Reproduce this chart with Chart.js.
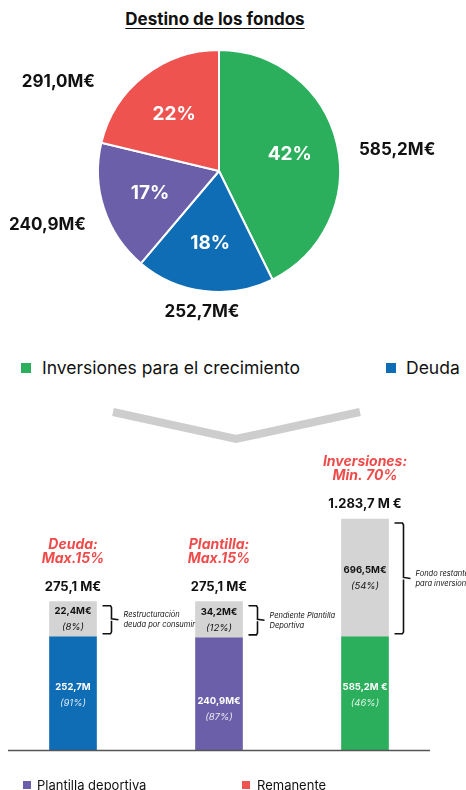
<!DOCTYPE html>
<html>
<head>
<meta charset="utf-8">
<script src="https://cdn.jsdelivr.net/npm/chart.js@4.4.1/dist/chart.umd.min.js"></script>
<style>
  body { margin: 0; background: #fff; font-family: Inter, "Noto Sans", sans-serif; color: #111; }
  #lienzo { position: relative; width: 466px; height: 790px; overflow: hidden; }
  .abs { position: absolute; }
  #titulo { top: 9px; left: 0; width: 430px; text-align: center; font-size: 17px; font-weight: 700; line-height: 20px; text-decoration: underline; text-underline-offset: 3px; }
  .leyenda { position: absolute; white-space: nowrap; display: flex; align-items: center; }
  .leyenda span { display: inline-block; }
  .grande { font-size: 17.5px; line-height: 22px; }
  .chica { font-size: 13px; line-height: 16px; }
</style>
</head>
<body>
<div id="lienzo">
  <div id="titulo" class="abs">Destino de los fondos</div>
  <canvas id="tarta" class="abs" width="466" height="330" style="top:0;left:0"></canvas>

  <div class="leyenda grande" style="top:357px;left:21px"><span style="width:10px;height:10px;background:#2BAF5C;margin-right:11px"></span>Inversiones para el crecimiento</div>
  <div class="leyenda grande" style="top:357px;left:386px"><span style="width:10px;height:10px;background:#0F6DB6;margin-right:10px"></span>Deuda</div>

  <svg class="abs" style="top:0;left:0" width="466" height="790">
    <polyline points="113,412 236,439 360,412" fill="none" stroke="#CDCDCD" stroke-width="8" />
  </svg>

  <canvas id="barras" class="abs" width="466" height="310" style="top:450px;left:0"></canvas>

  <div class="leyenda chica" style="top:777px;left:23px"><span style="width:8px;height:8px;background:#6A5FA8;margin-right:6px"></span>Plantilla deportiva</div>
  <div class="leyenda chica" style="top:777px;left:242px"><span style="width:8px;height:8px;background:#EF5350;margin-right:7px"></span>Remanente</div>
</div>

<script>
// Datos de la tarta
var categorias = ["Inversiones para el crecimiento", "Deuda", "Plantilla deportiva", "Remanente"];
var importes = [585.2, 252.7, 240.9, 291.0];
var porcentajes = [42, 18, 17, 22];
var colores = ["#2BAF5C", "#0F6DB6", "#6A5FA8", "#EF5350"];

// Datos de las barras (alturas tal como se dibujan, en unidades relativas)
var barras = ["Deuda", "Plantilla", "Inversiones"];
var titulos = [["Deuda:", "Max.15%"], ["Plantilla:", "Max.15%"], ["Inversiones:", "Min. 70%"]];
var alturaBase = [10.0, 9.9, 10.0];
var alturaResto = [3.1, 3.2, 10.4];
var totales = [275.1, 275.1, 1283.7];
var sufijoTotal = [" M€", " M€", " M €"];
var importeBase = [252.7, 240.9, 585.2];
var sufijoBase = ["M", "M€", "M €"];
var pctBase = [91, 87, 46];
var importeResto = [22.4, 34.2, 696.5];
var pctResto = [8, 12, 54];
var notas = [["Restructuración", "deuda por consumir"], ["Pendiente Plantilla", "Deportiva"], ["Fondo restante", "para inversiones"]];
var coloresBase = ["#0F6DB6", "#6A5FA8", "#2BAF5C"];

// pequeños ajustes de colocación de etiquetas (px)
var ajusteTarta = [[0, 6], [0, 2], [-5, 16], [4, 6]];
var ajusteBase = [0, 13, 0];

function fmt(v) {
    var partes = v.toFixed(1).split(".");
    var entero = partes[0].replace(/\B(?=(\d{3})+(?!\d))/g, ".");
    return entero + "," + partes[1];
}

var FUENTE = 'Inter, "Noto Sans", sans-serif';

// etiquetas de la tarta
var etiquetasTarta = {
    id: 'etiquetasTarta',
    afterDatasetsDraw: function(chart) {
        var ctx = chart.ctx;
        ctx.save();
        chart.getDatasetMeta(0).data.forEach(function(arc, i) {
            var p = arc.getProps(['x', 'y', 'startAngle', 'endAngle', 'outerRadius'], true);
            var mid = (p.startAngle + p.endAngle) / 2;
            var c = Math.cos(mid), s = Math.sin(mid);
            var R = p.outerRadius;
            ctx.textBaseline = 'middle';
            ctx.fillStyle = '#fff';
            ctx.font = 'bold 19px ' + FUENTE;
            ctx.textAlign = 'center';
            ctx.fillText(porcentajes[i] + "%", p.x + c * R * 0.6, p.y + s * R * 0.6);

            ctx.fillStyle = '#111';
            ctx.font = 'bold 17px ' + FUENTE;
            var txt = fmt(importes[i]) + "M€";
            var dx = ajusteTarta[i][0], dy = ajusteTarta[i][1];
            if (c > 0.35) {
                ctx.textAlign = 'left';
                ctx.fillText(txt, p.x + R + 19 + dx, p.y + s * R + dy);
            } else if (c < -0.35) {
                ctx.textAlign = 'right';
                ctx.fillText(txt, p.x - R - 7 + dx, p.y + s * R + dy);
            } else {
                ctx.textAlign = 'center';
                ctx.fillText(txt, p.x + c * (R + 19) + dx, p.y + s * (R + 19) + dy);
            }
        });
        ctx.restore();
    }
};

var tartaCtx = document.getElementById("tarta").getContext('2d');
var miTarta = new Chart(tartaCtx, {
    type: 'pie',
    data: {
        labels: categorias,
        datasets: [{
            data: importes,
            backgroundColor: colores,
            borderColor: '#ffffff',
            borderWidth: 2,
        }]
    },
    options: {
        responsive: false,
        animation: false,
        layout: { padding: { left: 97, right: 125, top: 49, bottom: 37 } },
        plugins: { legend: { display: false }, tooltip: { enabled: false } }
    },
    plugins: [etiquetasTarta]
});

// etiquetas, llaves y línea base de las barras
var etiquetasBarras = {
    id: 'etiquetasBarras',
    afterDatasetsDraw: function(chart) {
        var ctx = chart.ctx;
        var base = chart.getDatasetMeta(0).data;
        var resto = chart.getDatasetMeta(1).data;
        var area = chart.chartArea;
        ctx.save();

        // línea base
        ctx.strokeStyle = '#555';
        ctx.lineWidth = 1.5;
        ctx.beginPath();
        ctx.moveTo(8, area.bottom + 0.5);
        ctx.lineTo(430, area.bottom + 0.5);
        ctx.stroke();

        ctx.textAlign = 'center';
        ctx.textBaseline = 'middle';
        base.forEach(function(b, i) {
            var r = resto[i];
            var x = b.x;
            var arriba = r.y;
            var medioResto = (r.y + r.base) / 2;
            var medioBase = (b.y + b.base) / 2 + ajusteBase[i];

            ctx.textAlign = 'center';
            ctx.fillStyle = '#F04B4B';
            ctx.font = 'italic bold 14px ' + FUENTE;
            ctx.fillText(titulos[i][0], x, arriba - 57);
            ctx.fillText(titulos[i][1], x, arriba - 43);

            ctx.fillStyle = '#111';
            ctx.font = 'bold 13px ' + FUENTE;
            ctx.fillText(fmt(totales[i]) + sufijoTotal[i], x, arriba - 15);

            ctx.font = 'bold 9.5px ' + FUENTE;
            ctx.fillText(fmt(importeResto[i]) + "M€", x, medioResto - 8);
            ctx.font = 'italic 9.5px ' + FUENTE;
            ctx.fillText("(" + pctResto[i] + "%)", x, medioResto + 8);

            ctx.fillStyle = '#fff';
            ctx.font = 'bold 9.5px ' + FUENTE;
            ctx.fillText(fmt(importeBase[i]) + sufijoBase[i], x, medioBase - 6);
            ctx.fillStyle = 'rgba(255,255,255,0.85)';
            ctx.font = 'italic 9.5px ' + FUENTE;
            ctx.fillText("(" + pctBase[i] + "%)", x, medioBase + 10);

            // llave
            var bx = x + b.width / 2 + 6;
            var y0 = r.y + 4, y1 = r.base - 3, ym = (y0 + y1) / 2;
            ctx.strokeStyle = '#111';
            ctx.lineWidth = 1.6;
            ctx.beginPath();
            ctx.moveTo(bx, y0);
            ctx.lineTo(bx + 8, y0);
            ctx.lineTo(bx + 9, y0 + 2);
            ctx.lineTo(bx + 9, ym - 1);
            ctx.lineTo(bx + 16, ym);
            ctx.moveTo(bx + 9, ym + 1);
            ctx.lineTo(bx + 9, y1 - 2);
            ctx.lineTo(bx + 8, y1);
            ctx.lineTo(bx, y1);
            ctx.stroke();

            ctx.fillStyle = '#111';
            ctx.textAlign = 'left';
            ctx.font = 'italic 7.5px ' + FUENTE;
            ctx.fillText(notas[i][0], bx + 21, ym - 5);
            ctx.fillText(notas[i][1], bx + 21, ym + 5);
        });
        ctx.restore();
    }
};

var barrasCtx = document.getElementById("barras").getContext('2d');
var misBarras = new Chart(barrasCtx, {
    type: 'bar',
    data: {
        labels: barras,
        datasets: [{
            data: alturaBase,
            backgroundColor: coloresBase,
            barThickness: 47,
        },
        {
            data: alturaResto,
            backgroundColor: '#D4D4D4',
            barThickness: 47,
        }]
    },
    options: {
        responsive: false,
        animation: false,
        layout: { padding: { left: 0, right: 28, top: 0, bottom: 10 } },
        scales: {
            x: { display: false, stacked: true },
            y: { display: false, stacked: true, min: 0, max: 26.5 }
        },
        plugins: { legend: { display: false }, tooltip: { enabled: false } }
    },
    plugins: [etiquetasBarras]
});
</script>
</body>
</html>
